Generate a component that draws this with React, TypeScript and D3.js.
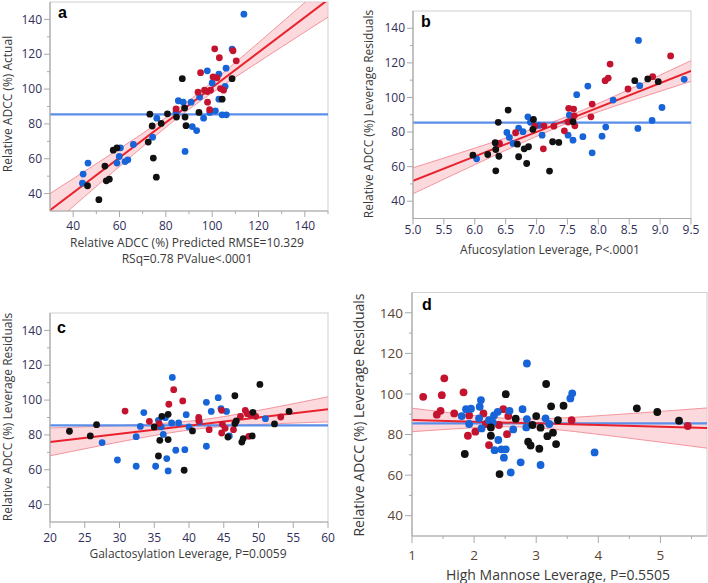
import React from "react";
import * as d3 from "d3";

// ---------- DATA ----------
// Panel a: Actual vs Predicted
const aBlue: [number, number][] = [
  [113.7, 143], [108.6, 123], [97.9, 110.5], [102.9, 108.6], [106, 112], [100, 103.5],
  [105.6, 101.5], [102.9, 94.2], [94.6, 95.4], [85.4, 93.3], [87.5, 92.5], [90.9, 92.5],
  [84.4, 86.8], [76.1, 83.3], [96.3, 83.3], [99, 86.6], [101.4, 87.5], [104.3, 85.2],
  [106.1, 85.2], [91.4, 78.5], [93.3, 76.2], [88.3, 64.2], [74.3, 72.4], [66, 68.2],
  [60.4, 66.3], [59.9, 61.3], [63.6, 59.4], [62.4, 58.4], [58.9, 57.5], [46.4, 57.5],
  [44.3, 51.2], [44, 46],
];
const aRed: [number, number][] = [
  [101.1, 123.1], [109, 122], [103.1, 118], [110.4, 116.2], [95, 109.4], [100.4, 107],
  [102.1, 106.5], [93.9, 98.2], [96.7, 99.4], [99.3, 99.4], [97.9, 98.6], [103.6, 100.3],
  [104.9, 99.4], [98, 92.5], [98.9, 88.2], [84.4, 88.6],
];
const aBlack: [number, number][] = [
  [108.6, 106], [87.1, 106], [104.3, 94.2], [94.3, 86.6], [73.1, 85.6], [80.7, 85.8],
  [84.6, 83.9], [88.3, 83.9], [88.1, 89.1], [88.7, 79], [74.1, 78.8], [78, 80.3],
  [72.4, 69.6], [74.6, 60.4], [75.9, 49.4], [58.9, 66.2], [57.3, 64.9], [53.7, 55.8],
  [55.6, 48.3], [54.3, 47.3], [46.2, 44.5], [51.1, 36.5],
];

// Panel b: Afucosylation leverage
const bBlue: [number, number][] = [
  [8.65, 133], [9.39, 110.5], [8.67, 106.8], [7.83, 106.6], [7.65, 101.6], [8.24, 98.5],
  [9.03, 94.2], [8.87, 86.7], [8.64, 82.1], [8.12, 82.9], [8.06, 77.6], [7.75, 77.3],
  [7.59, 75.3], [7.9, 68], [7.51, 78.2], [7.53, 89.8], [7.04, 83.8], [7.09, 78.2],
  [6.86, 88.8], [6.9, 85.6], [6.71, 82.3], [6.78, 80.2], [6.52, 79.8], [6.56, 76.9],
  [6.62, 73.4], [6.03, 64.5],
];
const bRed: [number, number][] = [
  [9.17, 124], [8.19, 119.3], [8.16, 111.2], [8.11, 109.7], [8.88, 112], [8.48, 104.9],
  [7.9, 96.2], [7.88, 88.8], [7.52, 93.7], [7.6, 93.3], [7.61, 89.4], [7.51, 85.8],
  [7.62, 83.6], [7.45, 80.7], [7.28, 83.4], [7.12, 83.6], [6.97, 83.4], [7.11, 70.3],
  [6.4, 73.4], [6.66, 79.6],
];
const bBlack: [number, number][] = [
  [8.59, 109.7], [8.8, 110.7], [8.97, 109.1], [6.54, 92.7], [6.38, 85.6], [6.95, 87.3],
  [6.94, 81.5], [7.59, 86], [7.26, 74.4], [7.36, 74], [7.21, 57.4], [6.71, 65.7],
  [6.69, 73], [6.87, 71.5], [6.8, 70.3], [6.84, 61.8], [6.33, 73.8], [6.34, 69.9],
  [6.39, 66], [6.34, 57.6], [6.21, 67], [5.97, 66.6],
];

// Panel c: Galactosylation leverage
const cBlack: [number, number][] = [
  [22.8, 82.1], [25.8, 79.4], [26.7, 85.9], [35, 84.6], [36.1, 90.7], [37, 91.8],
  [35.8, 76.9], [37, 77.3], [35.6, 67.9], [39.3, 59.7], [40.5, 82.3], [46.6, 102.5],
  [46.8, 88], [46.6, 86.5], [45.6, 78.8], [47.6, 75.9], [47.8, 77.9], [49.1, 79.4],
  [49.2, 93], [50.2, 109], [52.3, 86.3], [54.4, 93.5],
];
const cRed: [number, number][] = [
  [30.8, 93.7], [34.3, 87.8], [35.7, 86.5], [37.1, 97.6], [37.8, 106], [39.1, 99.5],
  [41.4, 90.1], [41.4, 88.2], [42.9, 83], [44.7, 81.1], [44.8, 86.1], [45.2, 83.8],
  [46.4, 83], [47.4, 90.7], [48.1, 94.1], [48.4, 92.2], [48.6, 79.2], [48.8, 91.6],
  [49.6, 90.7], [53.2, 90.3], [44.7, 94.1],
];
const cBlue: [number, number][] = [
  [37.6, 113], [33.5, 92.8], [33, 84.9], [32.4, 79], [27.5, 75.6], [29.7, 65.6],
  [32.4, 62], [35.2, 62], [35.6, 88.4], [36, 84.6], [36.3, 80.3], [36.6, 89.9],
  [37.5, 86.9], [38.5, 86.9], [38.1, 71.2], [39.4, 71.5], [36.8, 66.4], [37, 59.3],
  [39.6, 91.6], [40, 84.6], [42.5, 98.7], [42.5, 73.5], [43.2, 93.5], [44.2, 101.4],
  [44.6, 95.1], [45.4, 93.5], [45.8, 79.4], [41.5, 87.6], [49.2, 91.6], [51, 89.3],
];

// Panel d: High mannose leverage
const dRed: [number, number][] = [
  [1.18, 98.6], [1.52, 107.7], [1.48, 99.4], [1.46, 91.7], [1.4, 89.8], [1.68, 90.4],
  [1.83, 100.8], [1.92, 89.4], [1.9, 79.4], [2.02, 81.4], [2.24, 74.8], [2.15, 90.4],
  [2.19, 85.2], [2.47, 92.5], [2.55, 89.1], [2.53, 80.2], [2.4, 84.7], [3.57, 87.1],
  [5.44, 84.2],
];
const dBlue: [number, number][] = [
  [2.85, 115], [3.58, 100.3], [3.55, 97.8], [2.57, 91.7], [2.78, 92.5], [2.85, 87.6],
  [2.84, 83.5], [3.15, 88], [3.21, 85.2], [2.63, 82.5], [2.75, 66.3], [2.59, 61.3],
  [3.07, 65], [3.94, 71.2], [2.11, 97], [2.09, 93.7], [1.87, 92.5], [1.95, 92.7],
  [1.8, 89.1], [1.92, 85.2], [2.08, 88], [2.12, 83], [2.24, 87.1], [2.32, 89.4],
  [2.38, 91.2], [2.3, 86], [2.39, 77.3], [2.33, 72.3], [2.44, 72.7], [2.51, 72.7],
  [2.48, 68.6],
];
const dBlack: [number, number][] = [
  [3.16, 104.9], [2.51, 99.9], [3.24, 93.9], [3.44, 94.2], [3.35, 87.1], [3, 89.1],
  [3.07, 83.4], [2.94, 84.7], [3.18, 79.2], [3.27, 80.9], [3.32, 75.3], [2.87, 76.5],
  [2.91, 74.6], [3.05, 73], [2.41, 60.5], [1.85, 70.4], [2.67, 87.8], [2.27, 83.5],
  [2.27, 79.4], [4.62, 92.9], [4.95, 91.1], [5.3, 86.8],
];

// Fit lines [x0, y0, x1, y1] and band half-widths [left, minimum, right]
const fitA = [30, 30.5, 150, 151.3];
const bandA = [9.5, 2.5, 10];
const fitB = [5, 51.8, 9.5, 115.3];
const bandB = [7.5, 2, 6];
const fitC = [20, 76, 60, 94.7];
const bandC = [8, 2.5, 7.2];
const fitD = [1, 87.2, 5.75, 83.2];
const bandD = [5.8, 2, 9.9];

const meanY = 85.5;

// Axis ticks
const yMajor = [40, 60, 80, 100, 120, 140];
const yMinor = [50, 70, 90, 110, 130];
const aXMajor = [40, 60, 80, 100, 120, 140];
const aXMinor = [50, 70, 90, 110, 130, 150];
const bXMajor = [5, 5.5, 6, 6.5, 7, 7.5, 8, 8.5, 9, 9.5];
const cXMajor = [20, 25, 30, 35, 40, 45, 50, 55, 60];
const dXMajor = [1, 2, 3, 4, 5];
const dXMinor = [1.5, 2.5, 3.5, 4.5, 5.5];

// ---------- STYLE ----------
const RED = "#c4132f";
const BLUE = "#1763d8";
const BLACK = "#111111";
const FONT = "'Open Sans', 'Noto Sans', sans-serif";

type Pt = [number, number];

interface PanelCfg {
  id: string;
  left: number; top: number; right: number; bottom: number;
  xDomain: [number, number];
  xMajor: number[]; xMinor: number[]; xFmt: (v: number) => string;
  series: { color: string; pts: Pt[] }[];
  fit: number[]; band: number[];
  xLabel: string[]; xLabelY: number; xLabelX: number;
  yLabel: string; yLabelX: number; yLabelY: number;
  letter: string; letterX: number; letterY: number;
  tickFont: number; labelFont: number; tickColor: string;
  xTickBaseline: number; r: number; majorLen: number;
}

function Panel({ c }: { c: PanelCfg }) {
  const x = d3.scaleLinear().domain(c.xDomain).range([c.left, c.right]);
  const y = d3.scaleLinear().domain([30, 150]).range([c.bottom, c.top]);
  const [x0, y0, x1, y1] = c.fit;
  const slope = (y1 - y0) / (x1 - x0);
  const fy = (v: number) => y0 + slope * (v - x0);
  const [hwL, m, hwR] = c.band;
  const xL = c.xDomain[0], xR = c.xDomain[1];
  const aa = Math.sqrt(Math.max(hwL * hwL - m * m, 0));
  const bb = Math.sqrt(Math.max(hwR * hwR - m * m, 0));
  const xc = xL + ((xR - xL) * aa) / (aa + bb);
  const k = aa / (xc - xL);
  const hw = (v: number) => Math.sqrt(m * m + k * k * (v - xc) * (v - xc));
  const xs = d3.range(0, 81).map((i) => xL + ((xR - xL) * i) / 80);
  const upper = d3.line<number>().x((v) => x(v)).y((v) => y(fy(v) + hw(v)));
  const lower = d3.line<number>().x((v) => x(v)).y((v) => y(fy(v) - hw(v)));
  const area = d3
    .area<number>()
    .x((v) => x(v))
    .y0((v) => y(fy(v) - hw(v)))
    .y1((v) => y(fy(v) + hw(v)));
  const clipId = "clip-" + c.id;
  const axisColor = "#a9a9a9";
  return (
    <g>
      <defs>
        <clipPath id={clipId}>
          <rect x={c.left} y={c.top} width={c.right - c.left} height={c.bottom - c.top} />
        </clipPath>
      </defs>
      <rect x={c.left} y={c.top} width={c.right - c.left} height={c.bottom - c.top}
        fill="#fff" stroke="#cfcfcf" strokeWidth={1} />
      <g clipPath={`url(#${clipId})`}>
        <path d={area(xs) || ""} fill="#f8b9c0" fillOpacity={0.55} />
        <path d={upper(xs) || ""} fill="none" stroke="#f3929c" strokeWidth={1} />
        <path d={lower(xs) || ""} fill="none" stroke="#f3929c" strokeWidth={1} />
        <line x1={c.left} x2={c.right} y1={y(meanY)} y2={y(meanY)} stroke="#5b8ee8" strokeWidth={2.2} />
        <line x1={x(xL)} x2={x(xR)} y1={y(fy(xL))} y2={y(fy(xR))} stroke="#e8212d" strokeWidth={2} />
        {c.series.map((s, si) =>
          s.pts.map((p, i) => (
            <circle key={`${si}-${i}`} cx={x(p[0])} cy={y(p[1])} r={c.r} fill={s.color} />
          ))
        )}
      </g>
      {/* axes */}
      <line x1={c.left} x2={c.left} y1={c.top} y2={c.bottom} stroke={axisColor} strokeWidth={1.2} />
      <line x1={c.left} x2={c.right} y1={c.bottom} y2={c.bottom} stroke={axisColor} strokeWidth={1.2} />
      {yMajor.map((v) => (
        <g key={"ym" + v}>
          <line x1={c.left - c.majorLen} x2={c.left} y1={y(v)} y2={y(v)} stroke={axisColor} />
          <text x={c.left - c.majorLen - 2} y={y(v)} dy="0.35em" textAnchor="end"
            fontSize={c.tickFont} fontFamily={FONT} fill={c.tickColor}>{v}</text>
        </g>
      ))}
      {yMinor.map((v) => (
        <line key={"yn" + v} x1={c.left - 3} x2={c.left} y1={y(v)} y2={y(v)} stroke={axisColor} />
      ))}
      {c.xMajor.map((v) => (
        <g key={"xm" + v}>
          <line x1={x(v)} x2={x(v)} y1={c.bottom} y2={c.bottom + c.majorLen} stroke={axisColor} />
          <text x={x(v)} y={c.xTickBaseline} textAnchor="middle"
            fontSize={c.tickFont} fontFamily={FONT} fill={c.tickColor}>{c.xFmt(v)}</text>
        </g>
      ))}
      {c.xMinor.map((v) => (
        <line key={"xn" + v} x1={x(v)} x2={x(v)} y1={c.bottom} y2={c.bottom + 3} stroke={axisColor} />
      ))}
      {c.xLabel.map((t, i) => (
        <text key={"xl" + i} x={c.xLabelX} y={c.xLabelY + i * 16.5} textAnchor="middle"
          fontSize={c.labelFont} fontFamily={FONT} fill="#3a3a3a">{t}</text>
      ))}
      <text transform={`translate(${c.yLabelX},${c.yLabelY}) rotate(-90)`} textAnchor="middle"
        fontSize={c.labelFont} fontFamily={FONT} fill="#3a3a3a">{c.yLabel}</text>
      <text x={c.letterX} y={c.letterY} fontSize={16} fontWeight="bold"
        fontFamily="'Liberation Sans', Arial, sans-serif" fill="#000">{c.letter}</text>
    </g>
  );
}

const fmtInt = (v: number) => String(v);
const fmt1 = d3.format(".1f");

export default function App() {
  const panels: PanelCfg[] = [
    {
      id: "a", left: 50, top: 2, right: 328, bottom: 211, xDomain: [30, 150],
      xMajor: aXMajor, xMinor: aXMinor, xFmt: fmtInt,
      series: [{ color: BLUE, pts: aBlue }, { color: RED, pts: aRed }, { color: BLACK, pts: aBlack }],
      fit: fitA, band: bandA,
      xLabel: ["Relative ADCC (%) Predicted RMSE=10.329", "RSq=0.78 PValue<.0001"],
      xLabelX: 187, xLabelY: 246.5,
      yLabel: "Relative ADCC (%) Actual", yLabelX: 12, yLabelY: 104,
      letter: "a", letterX: 58, letterY: 18,
      tickFont: 12, labelFont: 12, tickColor: "#30305a", xTickBaseline: 230, r: 3.4, majorLen: 6,
    },
    {
      id: "b", left: 413, top: 11, right: 691, bottom: 218.5, xDomain: [5, 9.5],
      xMajor: bXMajor, xMinor: [], xFmt: fmt1,
      series: [{ color: BLUE, pts: bBlue }, { color: RED, pts: bRed }, { color: BLACK, pts: bBlack }],
      fit: fitB, band: bandB,
      xLabel: ["Afucosylation Leverage, P<.0001"], xLabelX: 550, xLabelY: 254,
      yLabel: "Relative ADCC (%) Leverage Residuals", yLabelX: 373, yLabelY: 114,
      letter: "b", letterX: 421, letterY: 27,
      tickFont: 12, labelFont: 12, tickColor: "#30305a", xTickBaseline: 234, r: 3.4, majorLen: 6,
    },
    {
      id: "c", left: 50, top: 313, right: 328, bottom: 522, xDomain: [20, 60],
      xMajor: cXMajor, xMinor: [], xFmt: fmtInt,
      series: [{ color: BLUE, pts: cBlue }, { color: RED, pts: cRed }, { color: BLACK, pts: cBlack }],
      fit: fitC, band: bandC,
      xLabel: ["Galactosylation Leverage, P=0.0059"], xLabelX: 188, xLabelY: 558,
      yLabel: "Relative ADCC (%) Leverage Residuals", yLabelX: 12, yLabelY: 417,
      letter: "c", letterX: 57, letterY: 333,
      tickFont: 12, labelFont: 12, tickColor: "#30305a", xTickBaseline: 542, r: 3.4, majorLen: 6,
    },
    {
      id: "d", left: 412, top: 292.5, right: 707, bottom: 536, xDomain: [1, 5.75],
      xMajor: dXMajor, xMinor: dXMinor, xFmt: fmtInt,
      series: [{ color: RED, pts: dRed }, { color: BLUE, pts: dBlue }, { color: BLACK, pts: dBlack }],
      fit: fitD, band: bandD,
      xLabel: ["High Mannose Leverage, P=0.5505"], xLabelX: 558, xLabelY: 580,
      yLabel: "Relative ADCC (%) Leverage Residuals", yLabelX: 364, yLabelY: 415,
      letter: "d", letterX: 422, letterY: 310,
      tickFont: 13.5, labelFont: 14, tickColor: "#5a4535", xTickBaseline: 560, r: 3.9, majorLen: 7,
    },
  ];
  return (
    <svg width={708} height={583} style={{ position: "absolute", left: 0, top: 0, background: "#fff" }}>
      <rect x={0} y={0} width={708} height={583} fill="#fff" />
      {panels.map((p) => (
        <Panel key={p.id} c={p} />
      ))}
    </svg>
  );
}
